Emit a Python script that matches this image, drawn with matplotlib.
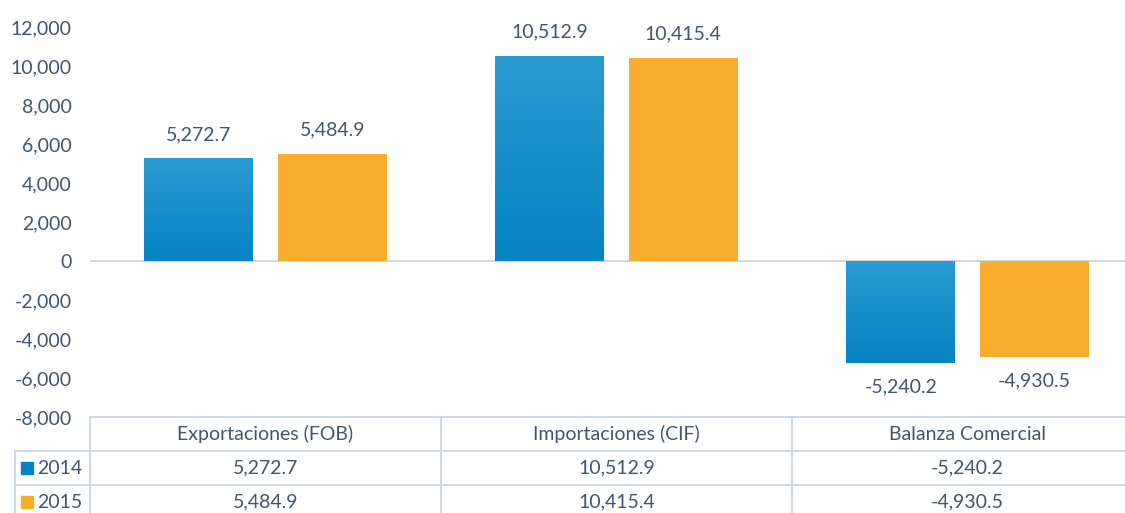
import numpy as np
import matplotlib
matplotlib.use("Agg")
import matplotlib.pyplot as plt
from matplotlib.patches import Rectangle
from matplotlib.transforms import blended_transform_factory

categories = ["Exportaciones (FOB)", "Importaciones (CIF)", "Balanza Comercial"]
years = ["2014", "2015"]
values_2014 = [5272.7, 10512.9, -5240.2]
values_2015 = [5484.9, 10415.4, -4930.5]

text_col = "#44546A"
line_col = "#CAD6E2"
blue_top = "#2A9BD2"
blue_bot = "#0683C4"
orange = "#F9AE2E"
fs = 14

plt.rcParams["font.family"] = ["Lato", "DejaVu Sans"]

W, H = 1125, 513
fig = plt.figure(figsize=(W / 100, H / 100), dpi=100)
ax = fig.add_axes([90 / W, 1 - 417 / H, 1053 / W, 390 / H])

x = np.arange(len(categories))
off = 0.19
bw = 0.31
bars14 = ax.bar(x - off, values_2014, bw, color=blue_bot, zorder=2)
bars15 = ax.bar(x + off, values_2015, bw, color=orange, zorder=2)

# vertical gradient on the blue bars
grad = np.linspace(0, 1, 256).reshape(-1, 1)
cmap = matplotlib.colors.LinearSegmentedColormap.from_list("b", [blue_bot, blue_top])
for b in bars14:
    x0, y0 = b.get_x(), b.get_y()
    w, h = b.get_width(), b.get_height()
    im = ax.imshow(grad, cmap=cmap, aspect="auto", origin="lower",
                   extent=[x0, x0 + w, min(y0, y0 + h), max(y0, y0 + h)], zorder=3)
    im.set_clip_path(b)

ax.set_xlim(-0.5, 2.5)
ax.set_ylim(-8000, 12000)
ax.set_yticks(np.arange(-8000, 12001, 2000))
ax.yaxis.set_major_formatter(matplotlib.ticker.FuncFormatter(lambda v, p: f"{v:,.0f}"))
ax.tick_params(axis="y", length=0, pad=13, labelsize=fs, labelcolor=text_col)
ax.set_xticks([])
for s in ax.spines.values():
    s.set_visible(False)
ax.axhline(0, color=line_col, lw=1.3, zorder=1)

for bars, vals in [(bars14, values_2014), (bars15, values_2015)]:
    for b, v in zip(bars, vals):
        cx = b.get_x() + b.get_width() / 2
        if v >= 0:
            ax.annotate(f"{v:,.1f}", (cx, v), xytext=(0, 11), textcoords="offset points",
                        ha="center", va="bottom", fontsize=fs, color=text_col)
        else:
            ax.annotate(f"{v:,.1f}", (cx, v), xytext=(0, -11), textcoords="offset points",
                        ha="center", va="top", fontsize=fs, color=text_col)

# data table below the axes
tr = blended_transform_factory(ax.transData, fig.transFigure)
def fy(py):
    return 1 - py / H

row_y = [417, 451, 485, 519]
kw = dict(color=line_col, lw=1.3, clip_on=False)
fig.add_artist(plt.Line2D([90 / W, 1], [fy(417)] * 2, transform=fig.transFigure, **kw))
for py in row_y[1:3]:
    fig.add_artist(plt.Line2D([15 / W, 1], [fy(py)] * 2, transform=fig.transFigure, **kw))
fig.add_artist(plt.Line2D([15 / W] * 2, [fy(451), 0], transform=fig.transFigure, **kw))
for xb in [-0.5, 0.5, 1.5]:
    ax.plot([xb, xb], [fy(417), 0], transform=tr, **kw)

for i, c in enumerate(categories):
    ax.text(i, fy((row_y[0] + row_y[1]) / 2), c, transform=tr, ha="center", va="center",
            fontsize=fs, color=text_col)
for r, (yr, vals, col) in enumerate([(years[0], values_2014, blue_bot), (years[1], values_2015, orange)]):
    cy = (row_y[r + 1] + row_y[r + 2]) / 2
    fig.add_artist(Rectangle((21 / W, fy(cy + 6)), 12 / W, 12 / H, transform=fig.transFigure,
                             color=col))
    fig.text(37 / W, fy(cy), yr, ha="left", va="center", fontsize=fs, color=text_col)
    for i, v in enumerate(vals):
        ax.text(i, fy(cy), f"{v:,.1f}", transform=tr, ha="center", va="center",
                fontsize=fs, color=text_col)

fig.savefig("out.png", dpi=100, facecolor="white")
